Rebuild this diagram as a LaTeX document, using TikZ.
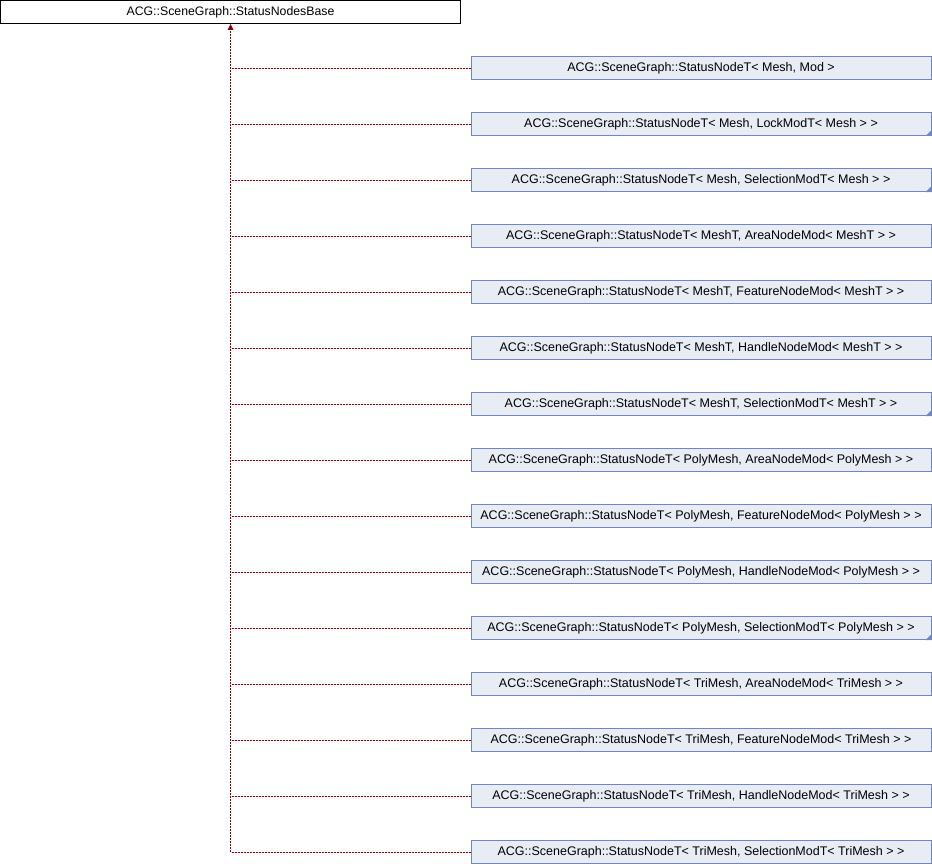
\documentclass[tikz,border=0pt]{standalone}
\usepackage{fontspec}
\setmainfont{Liberation Sans}
\usetikzlibrary{arrows.meta}
\definecolor{boxfill}{HTML}{E8ECF5}
\definecolor{boxline}{HTML}{7086C0}
\definecolor{arrowred}{HTML}{8B0000}
\tikzset{
  x=1pt, y=1pt,
  basebox/.style={draw=black, fill=white, line width=1pt, minimum width=460pt, minimum height=23pt, inner sep=0pt, font=\fontsize{12.3}{14}\selectfont},
  childbox/.style={draw=boxline, fill=boxfill, line width=1pt, minimum width=460pt, minimum height=23pt, inner sep=0pt, font=\fontsize{12.5}{14}\selectfont},
  inherit/.style={draw=arrowred, line width=0.9pt, dash pattern=on 2pt off 1pt},
  fold/.style={fill=boxline},
}
\begin{document}
\begin{tikzpicture}
\useasboundingbox (0,0) rectangle (932,-864);
\node[basebox] (base) at (230.5,-12) {ACG::SceneGraph::StatusNodesBase};
\foreach \i/\txt/\fd in {
 1/{ACG::SceneGraph::StatusNodeT< Mesh, Mod >}/0,
 2/{ACG::SceneGraph::StatusNodeT< Mesh, LockModT< Mesh > >}/1,
 3/{ACG::SceneGraph::StatusNodeT< Mesh, SelectionModT< Mesh > >}/1,
 4/{ACG::SceneGraph::StatusNodeT< MeshT, AreaNodeMod< MeshT > >}/0,
 5/{ACG::SceneGraph::StatusNodeT< MeshT, FeatureNodeMod< MeshT > >}/0,
 6/{ACG::SceneGraph::StatusNodeT< MeshT, HandleNodeMod< MeshT > >}/0,
 7/{ACG::SceneGraph::StatusNodeT< MeshT, SelectionModT< MeshT > >}/1,
 8/{ACG::SceneGraph::StatusNodeT< PolyMesh, AreaNodeMod< PolyMesh > >}/0,
 9/{ACG::SceneGraph::StatusNodeT< PolyMesh, FeatureNodeMod< PolyMesh > >}/0,
 10/{ACG::SceneGraph::StatusNodeT< PolyMesh, HandleNodeMod< PolyMesh > >}/0,
 11/{ACG::SceneGraph::StatusNodeT< PolyMesh, SelectionModT< PolyMesh > >}/1,
 12/{ACG::SceneGraph::StatusNodeT< TriMesh, AreaNodeMod< TriMesh > >}/0,
 13/{ACG::SceneGraph::StatusNodeT< TriMesh, FeatureNodeMod< TriMesh > >}/0,
 14/{ACG::SceneGraph::StatusNodeT< TriMesh, HandleNodeMod< TriMesh > >}/0,
 15/{ACG::SceneGraph::StatusNodeT< TriMesh, SelectionModT< TriMesh > >}/0} {
  \pgfmathsetmacro{\cy}{-68-56*(\i-1)}
  \node[childbox] (c\i) at (701,\cy) {\txt};
  \ifnum\fd=1
    \fill[fold] (c\i.south east) -- ++(0,6) -- ++(-6,-6) -- cycle;
  \fi
  \draw[inherit] (c\i.west) -- (c\i.west -| base.south);
}
\coordinate (trunkend) at (c15.west -| base.south);
\draw[inherit] (trunkend) -- ([yshift=-7pt]base.south);
\fill[arrowred] (base.south) -- ++(-3,-6) -- ++(6,0) -- cycle;
\end{tikzpicture}
\end{document}
